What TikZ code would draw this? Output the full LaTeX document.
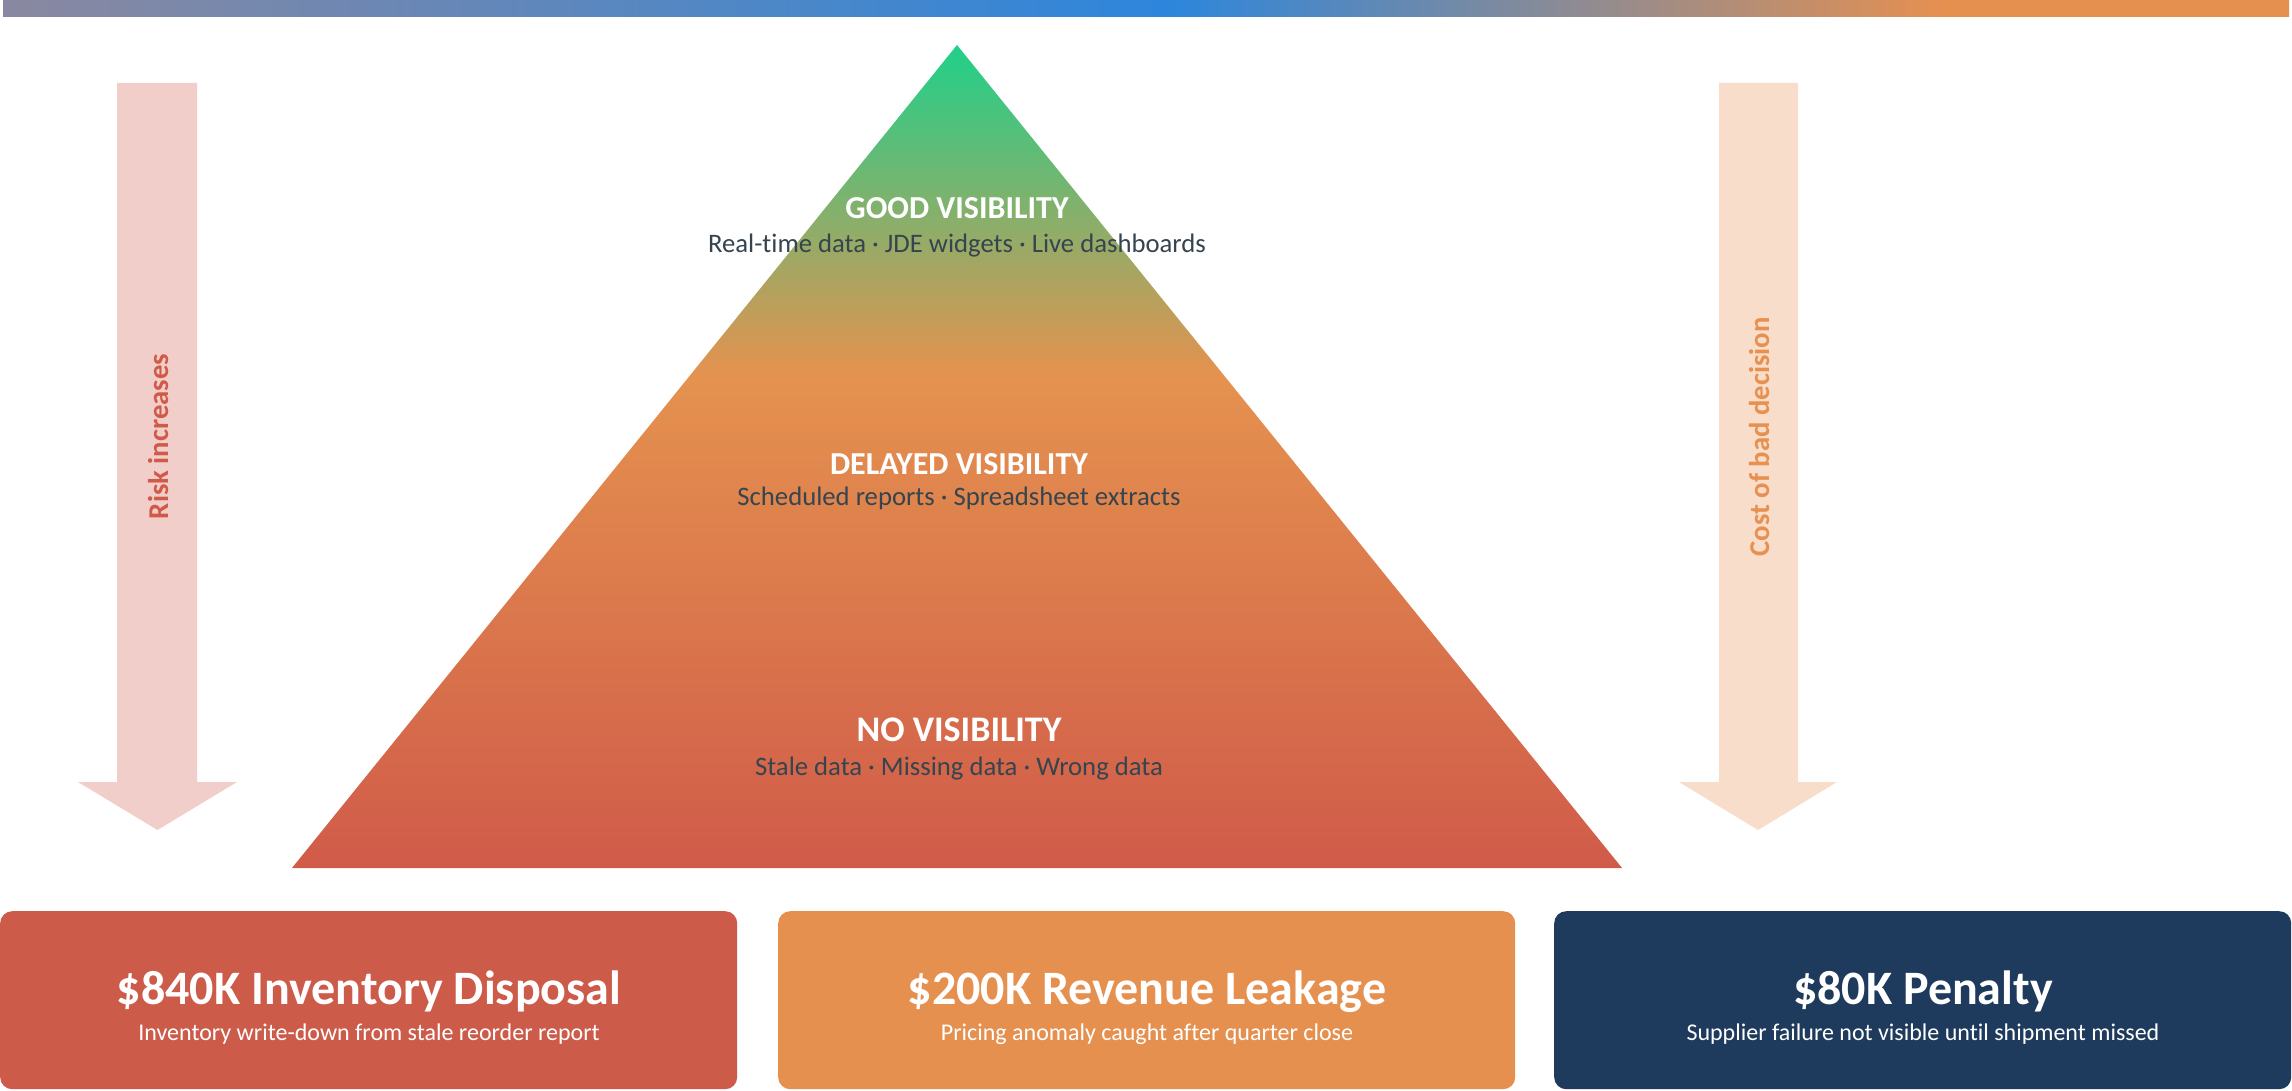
\documentclass[tikz,border=0pt]{standalone}
\usepackage{fontspec}
\setmainfont{Carlito}[Ligatures={NoCommon}]
\definecolor{barL}{HTML}{8A88A0}
\definecolor{barB}{HTML}{2D86DC}
\definecolor{barO}{HTML}{E69050}
\definecolor{triG}{HTML}{20D08A}
\definecolor{triO}{HTML}{E5924F}
\definecolor{triR}{HTML}{D05B49}
\definecolor{slate}{HTML}{35444F}
\definecolor{boxR}{HTML}{CD5B4A}
\definecolor{boxO}{HTML}{E69050}
\definecolor{boxN}{HTML}{1E3A5C}
\definecolor{arrL}{HTML}{F2CECA}
\definecolor{arrR}{HTML}{F7DDCA}
\definecolor{txtL}{HTML}{D05A48}
\definecolor{txtR}{HTML}{E8904F}
\pgfdeclarehorizontalshading{barshade}{100bp}{color(0bp)=(barL); color(25bp)=(barL); color(50.5bp)=(barB); color(67.5bp)=(barO); color(75bp)=(barO); color(100bp)=(barO)}
\pgfdeclareverticalshading{trishade}{100bp}{color(0bp)=(triR); color(25bp)=(triR); color(55bp)=(triO); color(75bp)=(triG); color(100bp)=(triG)}
\begin{document}
\begin{tikzpicture}[x=1pt,y=-1pt,
  lvltitle/.style={font=\fontsize{32}{38}\selectfont\bfseries, text=white, anchor=base, inner sep=0pt},
  lvlsub/.style={font=\fontsize{26.7}{32}\selectfont, text=slate, anchor=base, inner sep=0pt},
  costbox/.style={rounded corners=12pt, minimum width=737pt, minimum height=178pt, anchor=north west, inner sep=0pt},
  boxtitle/.style={font=\fontsize{48}{58}\selectfont\bfseries, text=white, anchor=base, inner sep=0pt},
  boxsub/.style={font=\fontsize{24}{29}\selectfont, text=white, anchor=base, inner sep=0pt},
  sidetext/.style={font=\fontsize{28.7}{34}\selectfont\bfseries, anchor=base, rotate=90, inner sep=0pt}]
\useasboundingbox (0,0) rectangle (2292,1091);
\fill[white] (0,0) rectangle (2292,1091);
% top gradient bar
\shade[shading=barshade] (3,0) rectangle (2289,17);
% side arrows
\fill[arrL] (117,83) -- (197,83) -- (197,782) -- (237,782) -- (157.5,830) -- (78,782) -- (117,782) -- cycle;
\fill[arrR] (1719,83) -- (1798,83) -- (1798,782) -- (1837,782) -- (1758,830) -- (1679,782) -- (1719,782) -- cycle;
\node[sidetext, text=txtL] (risk) at (168,436.5) {Risk increases};
\node[sidetext, text=txtR] (cost) at (1769,437) {Cost of bad decision};
% pyramid
\shade[shading=trishade] (957,45) -- (1622,868) -- (292,868) -- cycle;
\node[lvltitle] (good) at (957,219) {GOOD VISIBILITY};
\node[lvlsub] (goods) at (957,253) {Real-time data · JDE widgets · Live dashboards};
\node[lvltitle] (del) at (959,474) {DELAYED VISIBILITY};
\node[lvlsub] (dels) at (959,505) {Scheduled reports · Spreadsheet extracts};
\node[lvltitle, font=\fontsize{36}{43}\selectfont\bfseries] (no) at (959,741) {NO VISIBILITY};
\node[lvlsub] (nos) at (959,775) {Stale data · Missing data · Wrong data};
% cost boxes
\node[costbox, fill=boxR] (b1) at (0,911) {};
\node[costbox, fill=boxO] (b2) at (778,911) {};
\node[costbox, fill=boxN] (b3) at (1554,911) {};
\node[boxtitle] (t1) at (369,1004) {\$840K Inventory Disposal};
\node[boxsub] (s1) at (369,1040) {Inventory write-down from stale reorder report};
\node[boxtitle] (t2) at (1147,1004) {\$200K Revenue Leakage};
\node[boxsub] (s2) at (1147,1040) {Pricing anomaly caught after quarter close};
\node[boxtitle] (t3) at (1923,1004) {\$80K Penalty};
\node[boxsub] (s3) at (1923,1040) {Supplier failure not visible until shipment missed};
\end{tikzpicture}
\end{document}
